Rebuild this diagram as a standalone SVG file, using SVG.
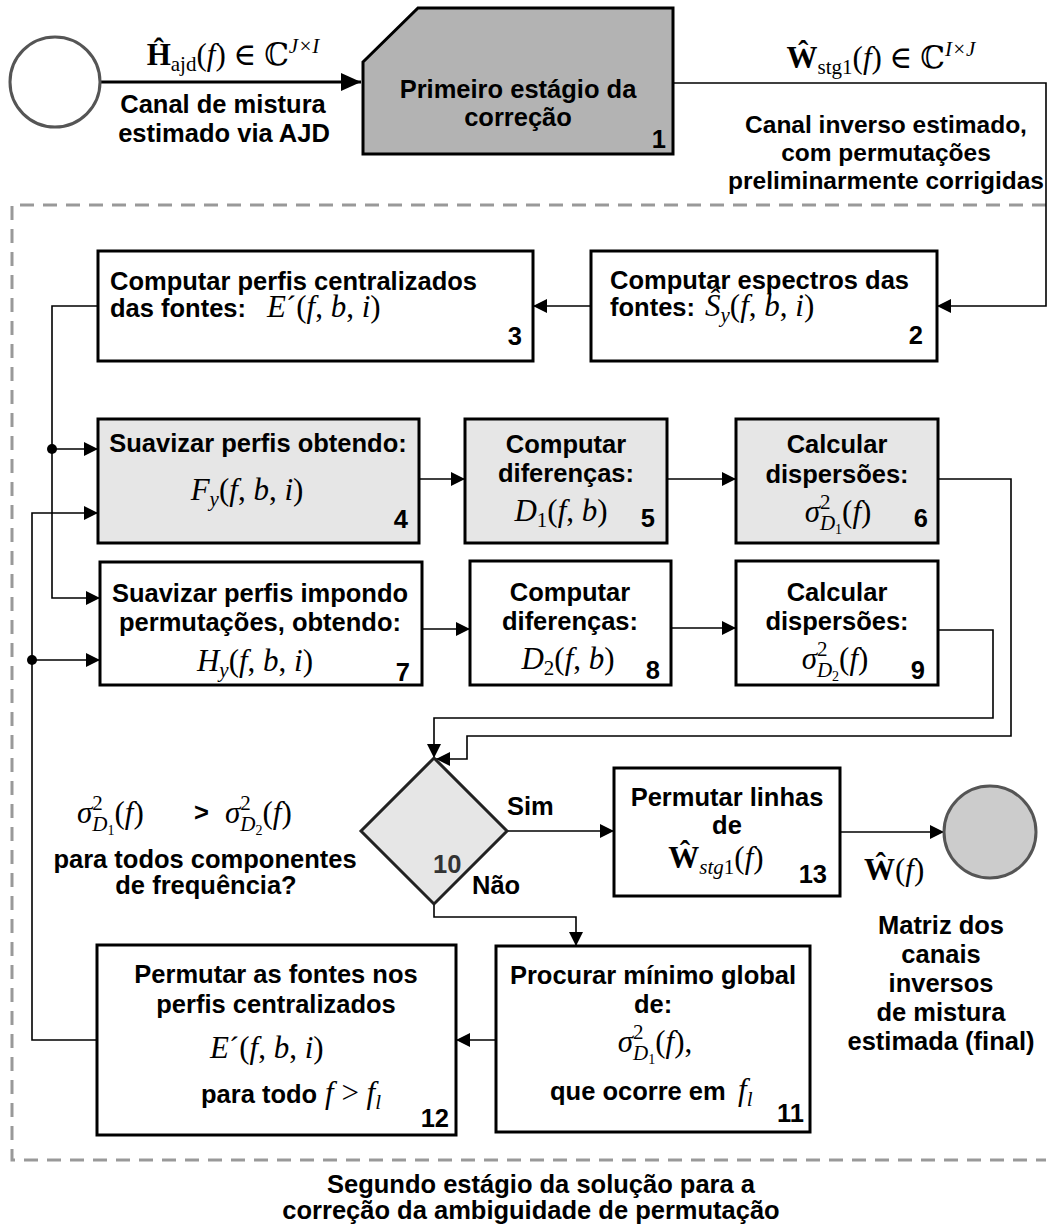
<svg xmlns="http://www.w3.org/2000/svg" width="1056" height="1225" viewBox="0 0 1056 1225">
<style>
.t{font-family:"Liberation Sans",Arial,sans-serif;font-weight:bold;font-size:25.5px;fill:#000}
.s{font-size:24.5px}
.c{text-anchor:middle}
.e{text-anchor:end}
.m{font-family:"Liberation Serif","DejaVu Serif",serif;font-size:31px;fill:#000}
.i{font-style:italic}
.b{font-weight:bold}
.box{fill:#fff;stroke:#000;stroke-width:3}
.gr{fill:#e6e6e6;stroke:#000;stroke-width:3}
.ln{fill:none;stroke:#000;stroke-width:1.6}
</style>
<defs>
<marker id="a" viewBox="0 0 14 14" markerWidth="14" markerHeight="14" refX="14" refY="7" orient="auto" markerUnits="userSpaceOnUse"><path d="M0,0 L14,7 L0,14 z" fill="#000"/></marker>
<marker id="A" viewBox="0 0 20 18" markerWidth="20" markerHeight="18" refX="20" refY="9" orient="auto" markerUnits="userSpaceOnUse"><path d="M0,0 L20,9 L0,18 z" fill="#000"/></marker>
</defs>

<path id="stage2-frame" d="M1046,205 H12 V1160 H1046" fill="none" stroke="#999" stroke-width="3" stroke-dasharray="14 9"/>

<g id="connectors">
<path d="M100,82 H361" fill="none" stroke="#000" stroke-width="3" marker-end="url(#A)"/>
<path class="ln" d="M673,83 H1046 V306 H937" marker-end="url(#a)"/>
<path class="ln" d="M591,306 H533" marker-end="url(#a)"/>
<path class="ln" d="M98,306 H52 V598 H100" marker-end="url(#a)"/>
<path class="ln" d="M52,449 H98" marker-end="url(#a)"/>
<path class="ln" d="M97,1040 H32 V513 H98" marker-end="url(#a)"/>
<path class="ln" d="M32,660 H100" marker-end="url(#a)"/>
<circle cx="52" cy="449" r="5" fill="#000"/>
<circle cx="32" cy="660" r="5" fill="#000"/>
<path class="ln" d="M419,479 H465" marker-end="url(#a)"/>
<path class="ln" d="M667,479 H736" marker-end="url(#a)"/>
<path class="ln" d="M422,629 H470" marker-end="url(#a)"/>
<path class="ln" d="M671,628 H736" marker-end="url(#a)"/>
<path class="ln" d="M938,630 H993 V718 H434 V758" marker-end="url(#a)"/>
<path class="ln" d="M938,479 H1011 V736 H467 V759 H436" marker-end="url(#a)"/>
<path class="ln" d="M507,831 H614" marker-end="url(#a)"/>
<path class="ln" d="M840,832 H944" marker-end="url(#a)"/>
<path class="ln" d="M434,904 V917 H576 V946" marker-end="url(#a)"/>
<path class="ln" d="M496,1040 H456" marker-end="url(#a)"/>
</g>

<g id="start">
<circle cx="55" cy="82" r="45" fill="#fff" stroke="#555" stroke-width="3"/>
</g>

<g id="label-in">
<text class="m c" x="233" y="65"><tspan class="b">Ĥ</tspan><tspan font-size="21" dy="6">ajd</tspan><tspan dy="-6">(</tspan><tspan class="i">f</tspan>) ∈ ℂ<tspan font-size="21" class="i" dy="-12">J×I</tspan></text>
<text class="t c" x="223" y="113">Canal de mistura</text>
<text class="t c" x="224" y="142">estimado via AJD</text>
</g>

<g id="n1">
<polygon points="363,62 418,8 673,8 673,154 363,154" fill="#b3b3b3" stroke="#000" stroke-width="3"/>
<text class="t c" x="518" y="98">Primeiro estágio da</text>
<text class="t c" x="518" y="126">correção</text>
<text class="t e" x="666" y="148">1</text>
</g>

<g id="label-out">
<text class="m c" x="881" y="68"><tspan class="b">Ŵ</tspan><tspan font-size="21" dy="6">stg1</tspan><tspan dy="-6">(</tspan><tspan class="i">f</tspan>) ∈ ℂ<tspan font-size="21" class="i" dy="-12">I×J</tspan></text>
<text class="t s c" x="886" y="133">Canal inverso estimado,</text>
<text class="t s c" x="886" y="161">com permutações</text>
<text class="t s c" x="886" y="189">preliminarmente corrigidas</text>
</g>

<g id="n2">
<rect class="box" x="591" y="251" width="346" height="110"/>
<text class="t" x="610" y="289">Computar espectros das</text>
<text class="t" x="610" y="316">fontes:</text>
<text class="m" x="705" y="316"><tspan class="i">Ŝ</tspan><tspan font-size="21" class="i" dy="6">y</tspan><tspan dy="-6">(</tspan><tspan class="i">f</tspan>, <tspan class="i">b</tspan>, <tspan class="i">i</tspan>)</text>
<text class="t e" x="923" y="344">2</text>
</g>

<g id="n3">
<rect class="box" x="98" y="251" width="435" height="110"/>
<text class="t" x="110" y="290">Computar perfis centralizados</text>
<text class="t" x="110" y="317">das fontes:</text>
<text class="m" x="267" y="317"><tspan class="i">E</tspan>´(<tspan class="i">f</tspan>, <tspan class="i">b</tspan>, <tspan class="i">i</tspan>)</text>
<text class="t e" x="522" y="345">3</text>
</g>

<g id="n4">
<rect class="gr" x="98" y="419" width="321" height="124"/>
<text class="t c" x="258" y="452">Suavizar perfis obtendo:</text>
<text class="m c" x="247" y="500"><tspan class="i">F</tspan><tspan font-size="21" class="i" dy="6">y</tspan><tspan dy="-6">(</tspan><tspan class="i">f</tspan>, <tspan class="i">b</tspan>, <tspan class="i">i</tspan>)</text>
<text class="t e" x="408" y="528">4</text>
</g>

<g id="n5">
<rect class="gr" x="465" y="419" width="202" height="124"/>
<text class="t c" x="566" y="453">Computar</text>
<text class="t c" x="566" y="482">diferenças:</text>
<text class="m c" x="561" y="521"><tspan class="i">D</tspan><tspan font-size="21" dy="6">1</tspan><tspan dy="-6">(</tspan><tspan class="i">f</tspan>, <tspan class="i">b</tspan>)</text>
<text class="t e" x="655" y="527">5</text>
</g>

<g id="n6">
<rect class="gr" x="736" y="419" width="202" height="124"/>
<text class="t c" x="837" y="453">Calcular</text>
<text class="t c" x="837" y="483">dispersões:</text>
<text class="m c" x="838" y="522"><tspan class="i">σ</tspan><tspan font-size="21" dy="-13">2</tspan><tspan font-size="21" class="i" dx="-10.5" dy="21">D</tspan><tspan font-size="14" dy="4">1</tspan><tspan dy="-12">(</tspan><tspan class="i">f</tspan>)</text>
<text class="t e" x="928" y="527">6</text>
</g>

<g id="n7">
<rect class="box" x="100" y="562" width="322" height="123"/>
<text class="t c" x="260" y="602">Suavizar perfis impondo</text>
<text class="t c" x="260" y="631">permutações, obtendo:</text>
<text class="m c" x="255" y="671"><tspan class="i">H</tspan><tspan font-size="21" class="i" dy="6">y</tspan><tspan dy="-6">(</tspan><tspan class="i">f</tspan>, <tspan class="i">b</tspan>, <tspan class="i">i</tspan>)</text>
<text class="t e" x="410" y="681">7</text>
</g>

<g id="n8">
<rect class="box" x="470" y="561" width="201" height="124"/>
<text class="t c" x="570" y="601">Computar</text>
<text class="t c" x="570" y="630">diferenças:</text>
<text class="m c" x="568" y="669"><tspan class="i">D</tspan><tspan font-size="21" dy="6">2</tspan><tspan dy="-6">(</tspan><tspan class="i">f</tspan>, <tspan class="i">b</tspan>)</text>
<text class="t e" x="660" y="679">8</text>
</g>

<g id="n9">
<rect class="box" x="736" y="561" width="202" height="124"/>
<text class="t c" x="837" y="601">Calcular</text>
<text class="t c" x="837" y="630">dispersões:</text>
<text class="m c" x="835" y="669"><tspan class="i">σ</tspan><tspan font-size="21" dy="-13">2</tspan><tspan font-size="21" class="i" dx="-10.5" dy="21">D</tspan><tspan font-size="14" dy="4">2</tspan><tspan dy="-12">(</tspan><tspan class="i">f</tspan>)</text>
<text class="t e" x="925" y="679">9</text>
</g>

<g id="n10">
<polygon points="434,758 507,831 434,904 361,831" fill="#e6e6e6" stroke="#222" stroke-width="3"/>
<text class="t" x="433" y="873" style="fill:#333">10</text>
<text class="t" x="507" y="815">Sim</text>
<text class="t" x="472" y="894">Não</text>
<text class="m" x="77" y="823"><tspan class="i">σ</tspan><tspan font-size="21" dy="-13">2</tspan><tspan font-size="21" class="i" dx="-10.5" dy="21">D</tspan><tspan font-size="14" dy="4">1</tspan><tspan dy="-12">(</tspan><tspan class="i">f</tspan>)</text>
<text class="t" x="194" y="821">&gt;</text>
<text class="m" x="225" y="823"><tspan class="i">σ</tspan><tspan font-size="21" dy="-13">2</tspan><tspan font-size="21" class="i" dx="-10.5" dy="21">D</tspan><tspan font-size="14" dy="4">2</tspan><tspan dy="-12">(</tspan><tspan class="i">f</tspan>)</text>
<text class="t c" x="205" y="868">para todos componentes</text>
<text class="t c" x="206" y="894">de frequência?</text>
</g>

<g id="n13">
<rect class="box" x="614" y="768" width="226" height="128"/>
<text class="t c" x="727" y="806">Permutar linhas</text>
<text class="t c" x="727" y="834">de</text>
<text class="m c" x="716" y="868"><tspan class="b">Ŵ</tspan><tspan font-size="21" class="i" dy="6">stg</tspan><tspan font-size="21">1</tspan><tspan dy="-6">(</tspan><tspan class="i">f</tspan>)</text>
<text class="t e" x="827" y="883">13</text>
</g>

<g id="end">
<circle cx="990" cy="832" r="46" fill="#ccc" stroke="#555" stroke-width="3"/>
<text class="m" x="864" y="880"><tspan class="b">Ŵ</tspan>(<tspan class="i">f</tspan>)</text>
<text class="t c" x="941" y="934">Matriz dos</text>
<text class="t c" x="941" y="963">canais</text>
<text class="t c" x="941" y="992">inversos</text>
<text class="t c" x="941" y="1021">de mistura</text>
<text class="t c" x="941" y="1050">estimada (final)</text>
</g>

<g id="n11">
<rect class="box" x="496" y="946" width="314" height="186"/>
<text class="t c" x="653" y="984">Procurar mínimo global</text>
<text class="t c" x="653" y="1013">de:</text>
<text class="m c" x="655" y="1052"><tspan class="i">σ</tspan><tspan font-size="21" dy="-13">2</tspan><tspan font-size="21" class="i" dx="-10.5" dy="21">D</tspan><tspan font-size="14" dy="4">1</tspan><tspan dy="-12">(</tspan><tspan class="i">f</tspan>),</text>
<text class="t" x="550" y="1100">que ocorre em</text>
<text class="m" x="738" y="1100"><tspan class="i">f</tspan><tspan font-size="21" class="i" dy="6">l</tspan></text>
<text class="t e" x="804" y="1122">11</text>
</g>

<g id="n12">
<rect class="box" x="97" y="945" width="359" height="190"/>
<text class="t c" x="276" y="983">Permutar as fontes nos</text>
<text class="t c" x="276" y="1013">perfis centralizados</text>
<text class="m" x="210" y="1058"><tspan class="i">E</tspan>´(<tspan class="i">f</tspan>, <tspan class="i">b</tspan>, <tspan class="i">i</tspan>)</text>
<text class="t" x="201" y="1103">para todo</text>
<text class="m" x="325" y="1103"><tspan class="i">f</tspan> &gt; <tspan class="i">f</tspan><tspan font-size="21" class="i" dy="6">l</tspan></text>
<text class="t e" x="449" y="1127">12</text>
</g>

<g id="caption">
<text class="t c" x="541" y="1193">Segundo estágio da solução para a</text>
<text class="t c" x="531" y="1219">correção da ambiguidade de permutação</text>
</g>
</svg>
